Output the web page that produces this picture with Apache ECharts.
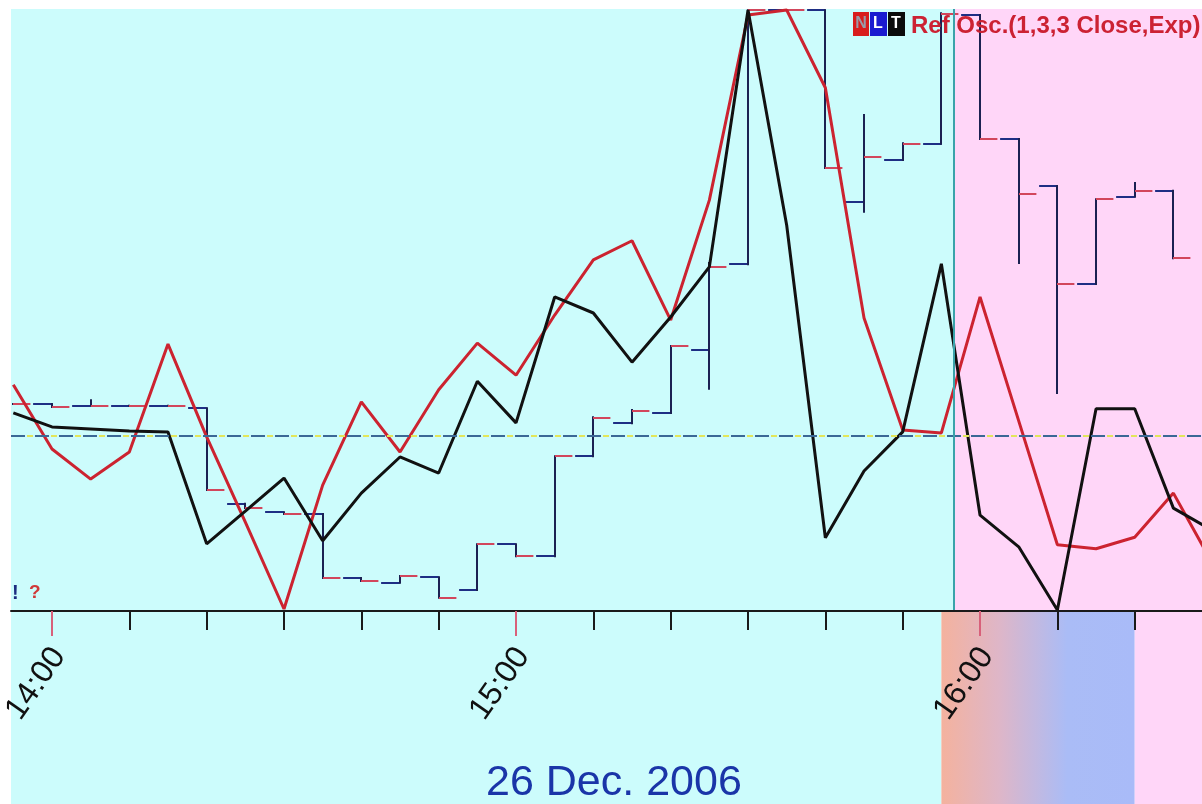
<!DOCTYPE html>
<html>
<head>
<meta charset="utf-8">
<script src="https://cdn.jsdelivr.net/npm/echarts@6/dist/echarts.min.js"></script>
<style>
  html, body { margin: 0; padding: 0; background: #ffffff; }
  #chart { width: 1202px; height: 804px; }
</style>
</head>
<body>
<div id="chart"></div>
<script>
// ---------------- data ----------------
// 5-minute sample times
const TIMES = ["13:55","14:00","14:05","14:10","14:15","14:20","14:25","14:30","14:35","14:40",
               "14:45","14:50","14:55","15:00","15:05","15:10","15:15","15:20","15:25","15:30",
               "15:35","15:40","15:45","15:50","15:55","16:00","16:05","16:10","16:15","16:20",
               "16:25","16:30"];
// Ref Osc. (red)
const REF_OSC = [10.1,-2.7,-8.7,-3.3,18.2,-0.3,-17.3,-34.6,-9.9,6.7,
                 -3.3,9.1,18.4,12.0,24.0,35.0,38.8,23.0,46.9,83.8,
                 84.8,69.3,23.4,1.1,0.5,27.6,2.9,-21.8,-22.6,-20.3,
                 -11.5,-25.4];
// signal line (black)
const SIGNAL = [4.5,1.7,1.3,0.9,0.7,-21.6,-15.1,-8.5,-21.0,-11.5,
                -4.3,-7.5,10.8,2.5,27.6,24.4,14.6,23.6,33.6,84.8,
                41.9,-20.4,-7.1,0.7,34.2,-15.9,-22.2,-34.8,5.3,5.3,
                -14.5,-18.9];
// price bars (start time, open, close, high, low)
const BAR_TIMES = ["13:55","14:00","14:05","14:10","14:15","14:20","14:25","14:30","14:35","14:40",
                   "14:45","14:50","14:55","15:00","15:05","15:10","15:15","15:20","15:25","15:30",
                   "15:35","15:40","15:45","15:50","15:55","16:00","16:05","16:10","16:15","16:20",
                   "16:25"];
const BAR_OPEN  = [34.4,33.9,34.1,34.1,34.1,20.1,17.1,16.1,5.5,5.0,
                   5.8,2.2,11.1,9.1,25.7,32.1,33.2,44.0,57.1,99.8,
                   99.8,73.6,75.4,77.6,99.2,78.4,69.3,54.3,68.4,69.8,
                   58.6];
const BAR_CLOSE = [34.4,34.1,34.1,34.1,33.7,17.8,16.4,16.1,5.5,4.7,
                   5.6,3.5,11.1,9.1,25.7,31.2,32.9,43.4,57.6,99.8,
                   99.8,67.9,74.9,77.6,99.0,78.4,70.6,54.3,68.8,69.8,
                   null];
const BAR_HIGH  = [34.4,34.4,35.0,34.1,34.1,33.7,17.8,16.4,16.1,5.5,
                   5.8,5.6,11.1,11.1,25.7,32.2,33.4,44.0,57.8,99.8,
                   99.8,99.8,82.4,77.7,99.3,99.0,78.4,70.6,68.4,71.1,
                   69.8];
const BAR_LOW   = [34.4,33.9,34.1,34.1,34.1,20.1,17.1,16.1,5.5,5.0,
                   4.7,2.2,3.5,9.1,9.1,25.7,31.2,32.9,36.9,57.6,
                   99.8,73.6,66.3,74.9,77.6,78.4,57.8,36.2,54.3,68.8,
                   58.6];
const BAR_MINUTES = 5;
// axis ticks and labels
const HOUR_TICKS  = ["14:00","15:00","16:00"];
const MINOR_TICKS = ["14:10","14:20","14:30","14:40","14:50","15:10","15:20","15:30","15:40","15:50",
                     "16:10","16:20"];
const VIEW_START = "13:54:42";
const VIEW_END   = "16:28:42";
const SESSION_SPLIT = "15:56:36";
const BAND_FROM = "15:55";
const BAND_TO   = "16:20";
const DATE_LABEL = "26 Dec. 2006";
const LEGEND_TEXT = "Ref Osc.(1,3,3 Close,Exp)";
const ZERO_LEVEL = 0;

// ---------------- helpers ----------------
function toMin(s) {
  const p = s.split(":").map(Number);
  return p[0] * 60 + p[1] + (p[2] || 0) / 60;
}
function fmt(v) {
  const h = Math.floor(v / 60), m = Math.round(v - h * 60);
  return h + ":" + (m < 10 ? "0" : "") + m;
}
const xMin = toMin(VIEW_START), xMax = toMin(VIEW_END);
const split = toMin(SESSION_SPLIT);

const redData = TIMES.map((t, i) => [toMin(t), REF_OSC[i]]);
const blackData = TIMES.map((t, i) => [toMin(t), SIGNAL[i]]);
const barData = BAR_TIMES.map((t, i) => [toMin(t), BAR_OPEN[i],
  BAR_CLOSE[i] == null ? '-' : BAR_CLOSE[i], BAR_HIGH[i], BAR_LOW[i]]);

function renderBar(params, api) {
  const t = api.value(0), o = api.value(1), c = api.value(2), h = api.value(3), l = api.value(4);
  const p0 = api.coord([t, o]);
  const p1 = api.coord([t + BAR_MINUTES, o]);
  const w = p1[0] - p0[0];
  const x0 = Math.round(p0[0]);
  const pH = api.coord([t, h]), pL = api.coord([t, l]);
  const kids = [];
  kids.push({ type: 'line', shape: { x1: x0, y1: pH[1] - 1, x2: x0, y2: pL[1] + 1 },
              style: { stroke: '#1b2152', lineWidth: 2 } });
  kids.push({ type: 'line', shape: { x1: x0, y1: Math.round(p0[1]), x2: x0 + w * 0.45, y2: Math.round(p0[1]) },
              style: { stroke: '#d2465c', lineWidth: 2 } });
  if (!isNaN(c)) {
    const pc = api.coord([t, c]);
    kids.push({ type: 'line', shape: { x1: x0 + w * 0.52, y1: Math.round(pc[1]), x2: x0 + w, y2: Math.round(pc[1]) },
                style: { stroke: '#1e2e84', lineWidth: 2 } });
  }
  return { type: 'group', children: kids };
}

const chart = echarts.init(document.getElementById('chart'), null, { renderer: 'canvas' });
const FONT = "'Liberation Sans', Arial, sans-serif";

const option = {
  animation: false,
  backgroundColor: '#ffffff',
  title: {
    text: DATE_LABEL,
    left: 481, top: 757,
    textStyle: { fontSize: 43, fontWeight: 'normal', color: '#1a35a8', fontFamily: FONT }
  },
  grid: [
    { left: 11, right: 0, top: 9, height: 602, containLabel: false, outerBoundsMode: 'none' },
    { left: 11, right: 0, top: 611, bottom: 0, containLabel: false, outerBoundsMode: 'none' }
  ],
  xAxis: [
    { gridIndex: 0, type: 'value', min: xMin, max: xMax, position: 'bottom', z: 6,
      axisLine: { show: true, onZero: false, lineStyle: { color: '#1a1a1a', width: 2 } },
      axisTick: { show: true, customValues: MINOR_TICKS.map(toMin), length: 19,
                  lineStyle: { color: '#1a1a1a', width: 2 } },
      axisLabel: { show: false }, splitLine: { show: false } },
    { gridIndex: 0, type: 'value', min: xMin, max: xMax, position: 'bottom', z: 6,
      axisLine: { show: false, onZero: false },
      axisTick: { show: true, customValues: HOUR_TICKS.map(toMin), length: 25,
                  lineStyle: { color: '#d8607a', width: 2 } },
      axisLabel: { show: true, customValues: HOUR_TICKS.map(toMin), formatter: fmt,
                   rotate: 55, margin: 35, verticalAlign: 'top', lineHeight: 17,
                   fontSize: 32, color: '#111111', fontFamily: FONT },
      splitLine: { show: false } },
    { gridIndex: 1, type: 'value', min: xMin, max: xMax, show: false,
      axisLine: { onZero: false } }
  ],
  yAxis: [
    { gridIndex: 0, type: 'value', min: -35, max: 85, show: false, splitLine: { show: false } },
    { gridIndex: 0, type: 'value', min: 0, max: 100, show: false, splitLine: { show: false } },
    { gridIndex: 1, type: 'value', min: 0, max: 1, show: false, splitLine: { show: false } }
  ],
  graphic: [
    { type: 'rect', z: 100, shape: { x: 853, y: 12, width: 16, height: 24 }, style: { fill: '#d81c1c' } },
    { type: 'rect', z: 100, shape: { x: 870, y: 12, width: 17, height: 24 }, style: { fill: '#1a1ad0' } },
    { type: 'rect', z: 100, shape: { x: 888, y: 12, width: 17, height: 24 }, style: { fill: '#0b0b0b' } },
    { type: 'text', z: 101, x: 861, y: 24, style: { text: 'N', fill: '#9a9aa8', font: "bold 16px " + FONT, align: 'center', verticalAlign: 'middle' } },
    { type: 'text', z: 101, x: 878, y: 24, style: { text: 'L', fill: '#ffffff', font: "bold 16px " + FONT, align: 'center', verticalAlign: 'middle' } },
    { type: 'text', z: 101, x: 896, y: 24, style: { text: 'T', fill: '#ffffff', font: "bold 16px " + FONT, align: 'center', verticalAlign: 'middle' } },
    { type: 'text', z: 101, x: 911, y: 26, style: { text: LEGEND_TEXT, fill: '#cc2233', font: "bold 24px " + FONT, align: 'left', verticalAlign: 'middle' } },
    { type: 'text', z: 101, x: 12, y: 593, style: { text: '!', fill: '#1c2c80', font: "bold 20px " + FONT, align: 'left', verticalAlign: 'middle' } },
    { type: 'text', z: 101, x: 29, y: 593, style: { text: '?', fill: '#d03838', font: "bold 19px " + FONT, align: 'left', verticalAlign: 'middle' } }
  ],
  series: [
    { name: 'bg', type: 'line', xAxisIndex: 0, yAxisIndex: 0, data: [], z: 0, silent: true,
      markArea: { silent: true, label: { show: false },
        data: [
          [{ xAxis: xMin, itemStyle: { color: '#ccfcfc' } }, { xAxis: split }],
          [{ xAxis: split, itemStyle: { color: '#ffd6f8' } }, { xAxis: xMax }]
        ] } },
    { name: 'bgBottom', type: 'line', xAxisIndex: 2, yAxisIndex: 2, data: [], z: 0, silent: true,
      markArea: { silent: true, label: { show: false },
        data: [
          [{ xAxis: xMin, itemStyle: { color: '#ccfcfc' } }, { xAxis: toMin(BAND_FROM) }],
          [{ xAxis: toMin(BAND_FROM), itemStyle: { color: {
              type: 'linear', x: 0, y: 0, x2: 1, y2: 0,
              colorStops: [{ offset: 0, color: '#f4b29e' }, { offset: 0.3, color: '#deb6c8' },
                           { offset: 0.65, color: '#aabcf6' }, { offset: 1, color: '#a9bbf8' }] } } },
           { xAxis: toMin(BAND_TO) }],
          [{ xAxis: toMin(BAND_TO), itemStyle: { color: '#ffd6f8' } }, { xAxis: xMax }]
        ] } },
    { name: 'guides', type: 'line', xAxisIndex: 0, yAxisIndex: 0, data: [], z: 1, silent: true,
      markLine: { silent: true, symbol: ['none', 'none'], label: { show: false },
        data: [
          { yAxis: ZERO_LEVEL, lineStyle: { color: '#3b6896', width: 2, type: [14, 10], opacity: 1 } },
          { yAxis: ZERO_LEVEL, lineStyle: { color: '#e2e65a', width: 2, type: [6, 18], dashOffset: 8, opacity: 1 } },
          { xAxis: split, lineStyle: { color: '#3aa2aa', width: 2, type: 'solid', opacity: 1 } }
        ] } },
    { name: 'Price', type: 'custom', xAxisIndex: 0, yAxisIndex: 1, z: 2, clip: true,
      renderItem: renderBar, data: barData, encode: { x: 0, y: [1, 2, 3, 4] } },
    { name: 'Ref Osc.', type: 'line', xAxisIndex: 0, yAxisIndex: 0, z: 3, data: redData,
      showSymbol: false, symbol: 'none', clip: true,
      lineStyle: { color: '#cc2330', width: 3 } },
    { name: 'Signal', type: 'line', xAxisIndex: 0, yAxisIndex: 0, z: 4, data: blackData,
      showSymbol: false, symbol: 'none', clip: true,
      lineStyle: { color: '#111111', width: 3 } }
  ]
};
chart.setOption(option);
</script>
</body>
</html>
